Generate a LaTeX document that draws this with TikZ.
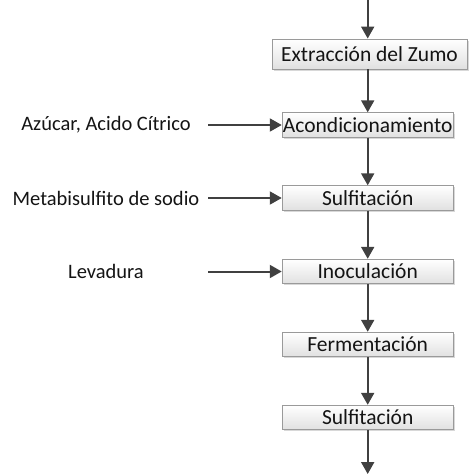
\documentclass[tikz,border=0pt]{standalone}
\usepackage{fontspec}
\setmainfont{Carlito}
\usetikzlibrary{arrows.meta,shadows}
\definecolor{txt}{HTML}{141414}
\definecolor{arr}{HTML}{404040}
\definecolor{bord}{HTML}{9A9A9A}
\begin{document}
\begin{tikzpicture}[x=1pt,y=-1pt,
  procbox/.style={rectangle, draw=bord, line width=0.9pt, top color=white, bottom color=black!12,
    minimum width=171pt, minimum height=24.5pt, inner sep=0pt, text=txt,
    font=\fontsize{21.5}{23}\selectfont,
    drop shadow={shadow xshift=1.5pt, shadow yshift=-1.5pt, fill=black!30, opacity=0.5}},
  inlabel/.style={text=txt, font=\fontsize{20.5}{22}\selectfont, inner sep=0pt},
  flow/.style={draw=arr, line width=2pt, -{Triangle[length=12pt,width=13pt]}}]
\useasboundingbox (0,0) rectangle (474,474);
\coordinate (top) at (367.7,0);
\coordinate (bot) at (367.7,474);
\node[procbox, minimum width=195pt, minimum height=30pt] (ext) at (369.5,54) {Extracción del Zumo};
\node[procbox] (acon) at (367.7,125) {Acondicionamiento};
\node[procbox] (sulf1) at (367.7,198) {Sulfitación};
\node[procbox] (inoc) at (367.7,271.5) {Inoculación};
\node[procbox] (ferm) at (367.7,344.5) {Fermentación};
\node[procbox] (sulf2) at (367.7,417.5) {Sulfitación};
\node[inlabel] (l1) at (106,125) {Azúcar, Acido Cítrico};
\node[inlabel] (l2) at (106,198) {Metabisulfito de sodio};
\node[inlabel] (l3) at (106,271.5) {Levadura};
\coordinate (s1) at (208,125);
\coordinate (s2) at (208,198);
\coordinate (s3) at (208,271.5);
\draw[flow] (top) -- (top |- ext.north);
\draw[flow] (acon.north |- ext.south) -- (acon.north);
\draw[flow] (acon.south) -- (sulf1.north);
\draw[flow] (sulf1.south) -- (inoc.north);
\draw[flow] (inoc.south) -- (ferm.north);
\draw[flow] (ferm.south) -- (sulf2.north);
\draw[flow] (sulf2.south) -- (bot);
\draw[flow] (s1) -- (acon.west);
\draw[flow] (s2) -- (sulf1.west);
\draw[flow] (s3) -- (inoc.west);
\end{tikzpicture}
\end{document}
